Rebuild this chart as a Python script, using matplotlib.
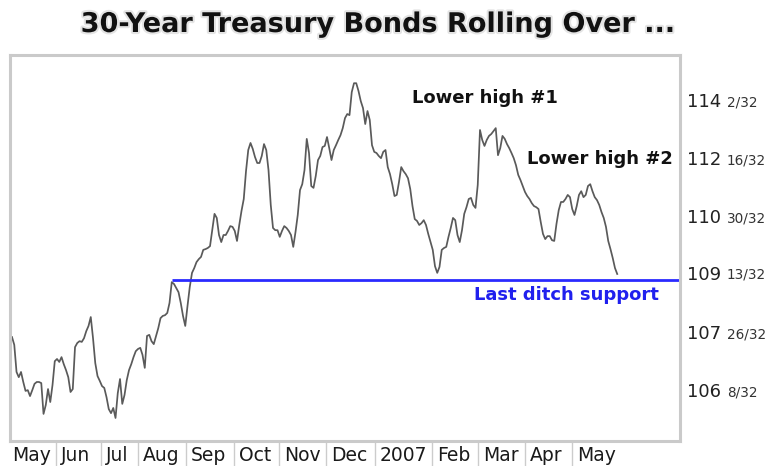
import matplotlib
matplotlib.use("Agg")
import matplotlib.pyplot as plt
import matplotlib.transforms as mtransforms
import matplotlib.patheffects as pe
import numpy as np

plt.rcParams['font.family'] = ['DejaVu Sans']

# ---- data: 30-year T-bond price, one value per trading day (May 2006 - May 2007)
prices = [
    107.73, 107.52, 106.79, 106.65, 106.79, 106.52, 106.28, 106.30, 106.14, 106.30,
    106.47, 106.52, 106.52, 106.49, 105.66, 105.90, 106.33, 105.98, 106.44, 107.08,
    107.14, 107.06, 107.19, 107.00, 106.84, 106.65, 106.25, 106.33, 107.46, 107.57,
    107.62, 107.60, 107.70, 107.89, 108.03, 108.27, 107.70, 107.03, 106.68, 106.55,
    106.41, 106.36, 106.11, 105.79, 105.68, 105.82, 105.55, 106.22, 106.60, 105.93,
    106.17, 106.57, 106.84, 107.00, 107.19, 107.35, 107.41, 107.44, 107.25, 106.90,
    107.76, 107.79, 107.62, 107.54, 107.76, 107.97, 108.24, 108.30, 108.32, 108.38,
    108.65, 109.21, 109.16, 109.05, 108.94, 108.65, 108.30, 108.03, 108.57, 109.08,
    109.46, 109.59, 109.75, 109.83, 109.89, 110.08, 110.10, 110.13, 110.18, 110.61,
    111.05, 110.94, 110.48, 110.29, 110.48, 110.48, 110.59, 110.72, 110.70, 110.59,
    110.32, 110.75, 111.13, 111.45, 112.20, 112.77, 112.96, 112.80, 112.58, 112.42,
    112.42, 112.61, 112.93, 112.77, 112.23, 111.29, 110.67, 110.61, 110.61, 110.43,
    110.59, 110.72, 110.67, 110.59, 110.48, 110.16, 110.56, 111.02, 111.69, 111.85,
    112.23, 113.07, 112.69, 111.80, 111.75, 112.07, 112.50, 112.61, 112.85, 112.88,
    113.12, 112.82, 112.50, 112.77, 112.90, 113.04, 113.17, 113.36, 113.63, 113.74,
    113.71, 114.33, 114.57, 114.57, 114.36, 114.09, 113.90, 113.47, 113.82, 113.58,
    112.90, 112.72, 112.69, 112.61, 112.55, 112.72, 112.77, 112.31, 112.12, 111.85,
    111.53, 111.56, 111.91, 112.31, 112.20, 112.12, 112.01, 111.72, 111.26, 110.91,
    110.86, 110.75, 110.80, 110.88, 110.75, 110.51, 110.29, 110.08, 109.64, 109.46,
    109.62, 110.08, 110.13, 110.16, 110.43, 110.67, 110.94, 110.88, 110.48, 110.29,
    110.61, 111.05, 111.23, 111.45, 111.48, 111.29, 111.21, 111.83, 113.31, 113.04,
    112.88, 113.04, 113.15, 113.20, 113.28, 113.36, 112.63, 112.82, 113.15, 113.07,
    112.93, 112.82, 112.69, 112.55, 112.36, 112.10, 111.96, 111.80, 111.64, 111.53,
    111.45, 111.34, 111.26, 111.23, 111.18, 110.83, 110.51, 110.37, 110.45, 110.45,
    110.34, 110.32, 110.78, 111.15, 111.37, 111.37, 111.45, 111.56, 111.50, 111.18,
    111.02, 111.26, 111.56, 111.66, 111.50, 111.56, 111.80, 111.85, 111.66, 111.50,
    111.42, 111.29, 111.10, 110.94, 110.70, 110.32, 110.10, 109.86, 109.59, 109.43,
]
days = np.arange(len(prices))

support_level = 109.28
support_start = 71

ytick_values = [114 + 2/32, 112 + 16/32, 110 + 30/32, 109 + 13/32, 107 + 26/32, 106 + 8/32]
ytick_whole = ["114", "112", "110", "109", "107", "106"]
ytick_frac = ["2/32", "16/32", "30/32", "13/32", "26/32", "8/32"]

month_labels = ["May", "Jun", "Jul", "Aug", "Sep", "Oct", "Nov", "Dec", "2007",
                "Feb", "Mar", "Apr", "May"]
month_separators = [19.6, 39.6, 56.0, 77.3, 98.7, 118.7, 139.6, 161.3, 186.7,
                    207.1, 228.0, 248.9]

title = "30-Year Treasury Bonds Rolling Over ..."
notes = [("Lower high #1", 177.8, 114.17, "#111111"),
         ("Lower high #2", 228.9, 112.53, "#111111"),
         ("Last ditch support", 205.3, 108.86, "#2020ee")]

# ---- figure
W, H = 773, 466
fig = plt.figure(figsize=(W / 100, H / 100), dpi=100)
ax = fig.add_axes([10 / W, 25 / H, 670 / W, 386 / H])
ax.set_xlim(-0.9, 296.9)
ax.set_ylim(104.93, 115.33)

ax.plot(days, prices, color="#5a5a5a", lw=1.25, solid_joinstyle="round")
ax.hlines(support_level, support_start, ax.get_xlim()[1], color="#2a2aff", lw=2.0)

for s in ax.spines.values():
    s.set_color("#cacaca")
    s.set_linewidth(2.2)
ax.set_xticks([])
ax.set_yticks([])

# right-hand price labels
ytr = mtransforms.blended_transform_factory(ax.transAxes, ax.transData)
for v, w, f in zip(ytick_values, ytick_whole, ytick_frac):
    ax.text(1.0104, v, w, transform=ytr, ha="left", va="center", fontsize=13,
            color="#222222", clip_on=False)
    ax.text(1.0701, v, f, transform=ytr, ha="left", va="center", fontsize=9.8,
            color="#333333", clip_on=False)

# month labels with separators
xtr = mtransforms.blended_transform_factory(ax.transData, ax.transAxes)
label_x = [0.0] + [s + 2.2 for s in month_separators]
for lx, lab in zip(label_x, month_labels):
    ax.text(lx, -0.037, lab, transform=xtr, ha="left", va="center", fontsize=13.5,
            color="#1a1a1a", clip_on=False)
for s in month_separators:
    ax.plot([s, s], [-0.005, -0.07], transform=xtr, color="#cccccc", lw=1.0,
            clip_on=False)

# annotations
for txt, x, y, c in notes:
    ax.text(x, y, txt, ha="left", va="center", fontsize=13, fontweight="bold", color=c)

fig.text(378 / W, 1 - 25 / H, title, ha="center", va="center", fontsize=19.5,
         fontweight="bold", color="#111111",
         path_effects=[pe.withStroke(linewidth=3, foreground="#e4e4e4")])

fig.savefig("out.png", dpi=100)
